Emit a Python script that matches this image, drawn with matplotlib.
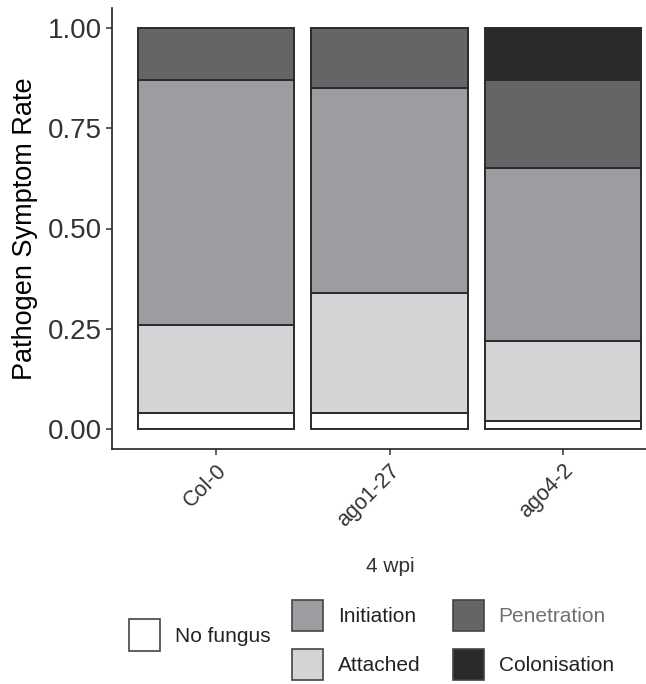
import numpy as np
import matplotlib
matplotlib.use("Agg")
import matplotlib.pyplot as plt
from matplotlib.patches import Patch

plt.rcParams['font.family'] = ['Liberation Sans', 'DejaVu Sans']

# data: fraction of plants in each symptom stage
genotypes = ["Col-0", "ago1-27", "ago4-2"]
stages = ["No fungus", "Attached", "Initiation", "Penetration", "Colonisation"]
no_fungus = [0.04, 0.04, 0.02]
attached = [0.22, 0.30, 0.20]
initiation = [0.61, 0.51, 0.43]
penetration = [0.13, 0.15, 0.22]
colonisation = [0.00, 0.00, 0.13]
yticks = [0.0, 0.25, 0.5, 0.75, 1.0]

colors = {"No fungus": "#ffffff", "Attached": "#d3d4d6", "Initiation": "#9c9da1",
          "Penetration": "#646567", "Colonisation": "#2a2a2a"}
edge = "#2b2b2b"

W, H = 646, 684
fig = plt.figure(figsize=(W / 100, H / 100), dpi=100)
# axes runs past the right edge, like the cropped original
ax = fig.add_axes([112 / W, 235 / H, 555 / W, 441 / H])

x = np.arange(len(genotypes))
bottom = np.zeros(len(genotypes))
for name, vals in zip(stages, [no_fungus, attached, initiation, penetration, colonisation]):
    vals = np.array(vals)
    keep = vals > 0
    ax.bar(x[keep], vals[keep], 0.9, bottom=bottom[keep], color=colors[name],
           edgecolor=edge, linewidth=1.4)
    bottom += vals

ax.set_xlim(-0.6, 2.6)
ax.set_ylim(-0.05, 1.05)
ax.set_yticks(yticks)
ax.set_yticklabels(["%.2f" % v for v in yticks])
ax.set_xticks(x)
ax.set_xticklabels(genotypes, rotation=45, ha="right", va="top", rotation_mode="anchor")

for s in ["top", "right"]:
    ax.spines[s].set_visible(False)
for s in ["left", "bottom"]:
    ax.spines[s].set_color("#222222")
    ax.spines[s].set_linewidth(1.2)
ax.tick_params(axis="y", length=4, width=1.1, color="#333333", labelsize=20,
               labelcolor="#333333", pad=3)
ax.tick_params(axis="x", length=4, width=1.1, color="#333333", labelsize=15.5,
               labelcolor="#333333", pad=4)
ax.set_ylabel("Pathogen Symptom Rate", fontsize=19.5, labelpad=7)

fig.text(390 / W, 1 - 567 / H, "4 wpi", fontsize=15, ha="center", va="center",
         color="#333333")

# legend: single key on the left, 2x2 block to the right
kw = dict(frameon=False, fontsize=15, handlelength=1.5, handleheight=1.93,
          handletextpad=0.7, borderpad=0, borderaxespad=0)
h1 = [Patch(facecolor=colors["No fungus"], edgecolor="#444444", linewidth=1.2)]
leg1 = fig.legend(h1, ["No fungus"], loc="center left",
                  bbox_to_anchor=(129 / W, 1 - 635 / H), **kw)
order = ["Initiation", "Attached", "Penetration", "Colonisation"]
h2 = [Patch(facecolor=colors[n], edgecolor="#444444", linewidth=1.2) for n in order]
leg2 = fig.legend(h2, order, loc="upper left", ncol=2,
                  bbox_to_anchor=(292 / W, 1 - 600 / H), labelspacing=0.85,
                  columnspacing=1.55, **kw)
for t in leg1.get_texts() + leg2.get_texts():
    t.set_color("#222222")
leg2.get_texts()[2].set_color("#707070")

fig.savefig("out.png", dpi=100)
